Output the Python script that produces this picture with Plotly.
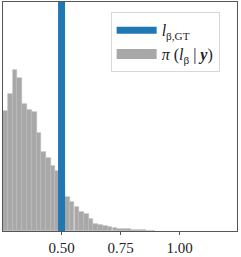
import plotly.graph_objects as go

# Histogram of posterior samples (density-like heights), bin centres
bin_centers = [0.263, 0.283, 0.303, 0.323, 0.343, 0.364, 0.384, 0.404, 0.424, 0.444,
               0.464, 0.484, 0.504, 0.524, 0.544, 0.565, 0.585, 0.605, 0.625, 0.645,
               0.665, 0.685, 0.705, 0.726, 0.746, 0.766, 0.786, 0.806, 0.826, 0.846,
               0.866, 0.886]
density = [3.68, 4.21, 4.93, 4.71, 3.89, 3.73, 3.66, 3.01, 2.44, 2.23,
           2.01, 1.84, 1.45, 1.04, 0.88, 0.74, 0.58, 0.51, 0.38, 0.23,
           0.18, 0.14, 0.11, 0.09, 0.07, 0.06, 0.05, 0.04, 0.03, 0.02,
           0.01, 0.01]
bin_width = 0.0201
l_gt = 0.5
tick_vals = [0.50, 0.75, 1.00]
tick_text = ["0.50", "0.75", "1.00"]
y_top = 7.03
hist_color = "#a8a8a8"

fig = go.Figure()
fig.add_trace(go.Bar(
    x=bin_centers, y=density, width=bin_width,
    marker=dict(color=hist_color, line=dict(color="#bababa", width=0.6)),
    showlegend=False,
))
fig.add_trace(go.Scatter(
    x=[l_gt, l_gt], y=[0, y_top], mode="lines",
    line=dict(color="#1f77b4", width=7),
    name="<i>l</i><sub>β,GT</sub>",
))
# legend entry for the histogram (wide grey patch)
fig.add_trace(go.Scatter(
    x=[None], y=[None], mode="lines",
    line=dict(color=hist_color, width=12),
    name="<i>π</i> (<i>l</i><sub>β</sub> | <b><i>y</i></b>)",
))

fig.update_layout(
    width=241, height=257,
    margin=dict(l=3, r=4, t=1, b=22),
    plot_bgcolor="white", paper_bgcolor="white",
    font=dict(family="Liberation Serif, DejaVu Serif, serif", size=14, color="#222"),
    bargap=0,
    legend=dict(x=0.46, y=0.955, xanchor="left", yanchor="top",
                bgcolor="white", bordercolor="#d8d8d8", borderwidth=1,
                font=dict(size=16), itemwidth=40, tracegroupgap=4),
    xaxis=dict(range=[0.252, 1.243], tickvals=tick_vals, ticktext=tick_text,
               showgrid=False, zeroline=False, showline=True, mirror=True,
               linecolor="#555", linewidth=1, ticks="outside", ticklen=3,
               tickcolor="#555", tickfont=dict(size=15)),
    yaxis=dict(range=[0, y_top], showticklabels=False, showgrid=False,
               zeroline=False, showline=True, mirror=True,
               linecolor="#555", linewidth=1, ticks=""),
)

fig.write_html("out.html", config={"displayModeBar": False},
               post_script="document.body.style.margin='0';document.body.style.overflow='hidden';")
